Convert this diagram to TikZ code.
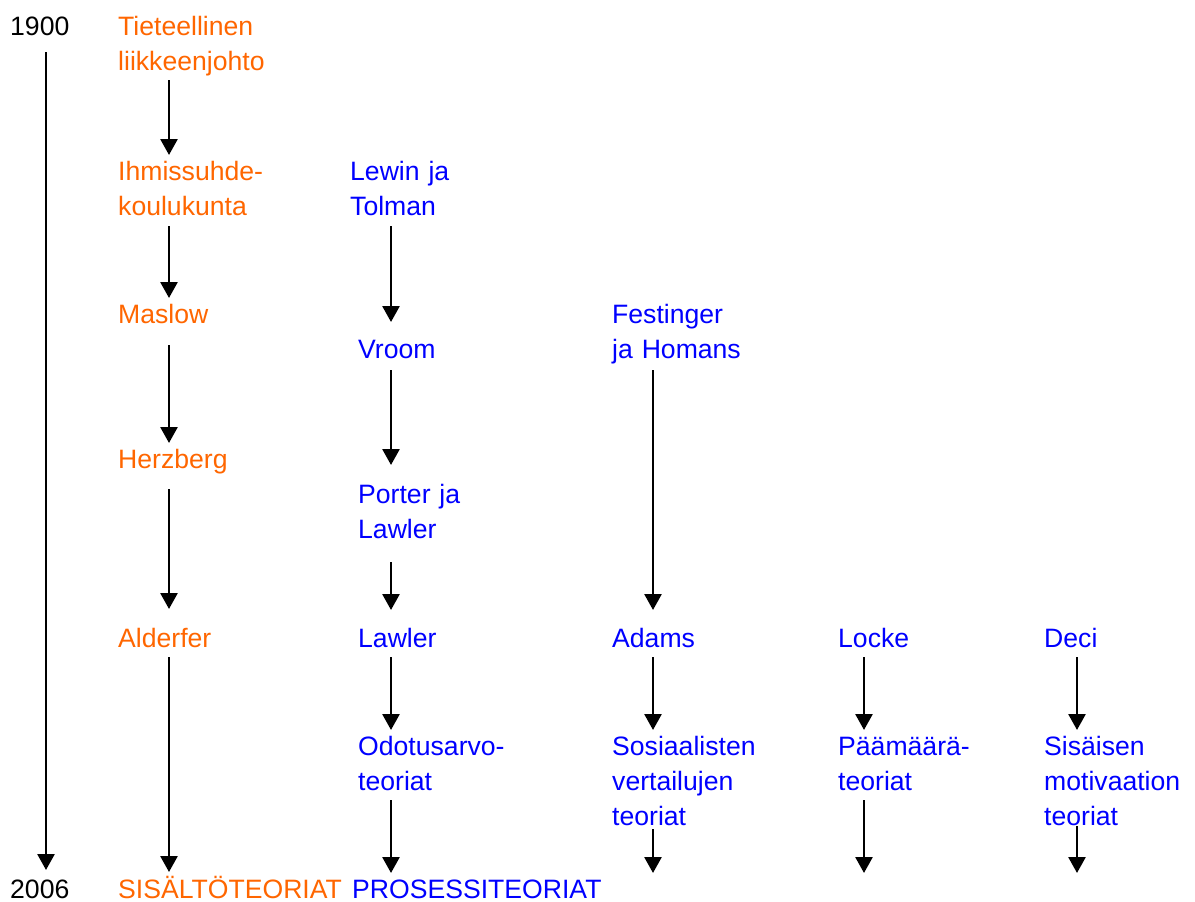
\documentclass[tikz,border=0pt]{standalone}
\usepackage{fontspec}
\setmainfont{Liberation Sans}
\usetikzlibrary{arrows.meta}
\definecolor{sorange}{RGB}{255,102,0}
\definecolor{sblue}{RGB}{0,0,255}
\begin{document}
\begin{tikzpicture}[x=1pt,y=-1pt,
  lbl/.style={inner sep=0pt,anchor=base west,align=left,text width=260pt,
    font=\fontsize{26.6}{35}\selectfont},
  cont/.style={lbl,text=sorange},
  proc/.style={lbl,text=sblue},
  yr/.style={lbl,text=black},
  arr/.style={line width=2.7pt,-{Triangle[width=17pt,length=16pt]}}]
\useasboundingbox (0,0) rectangle (1195,902);
% years
\node[yr] (y0) at (10,35) {1900};
\node[yr] (y1) at (10,898) {2006};
% content theories
\node[cont] (t1) at (118,35) {Tieteellinen\\liikkeenjohto};
\node[cont] (t2) at (118,180) {Ihmissuhde-\\koulukunta};
\node[cont] (t3) at (118,323) {Maslow};
\node[cont] (t4) at (118,468) {Herzberg};
\node[cont] (t5) at (118,647) {Alderfer};
\node[cont] (t6) at (118,898) {SISÄLTÖTEORIAT};
% process theories
\node[proc] (p1) at (350,180) {Lewin ja\\Tolman};
\node[proc] (p2) at (358,358) {Vroom};
\node[proc] (p3) at (358,503) {Porter ja\\Lawler};
\node[proc] (p4) at (358,647) {Lawler};
\node[proc] (p5) at (358,755) {Odotusarvo-\\teoriat};
\node[proc] (p6) at (352,898) {PROSESSITEORIAT};
\node[proc] (f1) at (612,323) {Festinger\\ja Homans};
\node[proc] (f2) at (612,647) {Adams};
\node[proc] (f3) at (612,755) {Sosiaalisten\\vertailujen\\teoriat};
\node[proc] (l1) at (838,647) {Locke};
\node[proc] (l2) at (838,755) {Päämäärä-\\teoriat};
\node[proc] (d1) at (1044,647) {Deci};
\node[proc] (d2) at (1044,755) {Sisäisen\\motivaation\\teoriat};
% free ends
\coordinate (e3) at (653,873);
\coordinate (e4) at (864,873);
\coordinate (e5) at (1077,873);
% timeline
\draw[arr] ([shift={(36,17)}]y0.base west) -- ([shift={(36,-28)}]y1.base west);
% column 1
\draw[arr] ([shift={(51,45)}]t1.base west) -- ([shift={(51,-25)}]t2.base west);
\draw[arr] ([shift={(51,46)}]t2.base west) -- ([shift={(51,-25)}]t3.base west);
\draw[arr] ([shift={(51,22)}]t3.base west) -- ([shift={(51,-25)}]t4.base west);
\draw[arr] ([shift={(51,21)}]t4.base west) -- ([shift={(51,-38)}]t5.base west);
\draw[arr] ([shift={(51,10)}]t5.base west) -- ([shift={(51,-26)}]t6.base west);
% column 2
\draw[arr] ([shift={(41,46)}]p1.base west) -- ([shift={(33,-36)}]p2.base west);
\draw[arr] ([shift={(33,12)}]p2.base west) -- ([shift={(33,-38)}]p3.base west);
\draw[arr] ([shift={(33,59)}]p3.base west) -- ([shift={(33,-37)}]p4.base west);
\draw[arr] ([shift={(33,10)}]p4.base west) -- ([shift={(33,-25)}]p5.base west);
\draw[arr] ([shift={(33,45)}]p5.base west) -- ([shift={(39,-25)}]p6.base west);
% column 3
\draw[arr] ([shift={(41,47)}]f1.base west) -- ([shift={(41,-37)}]f2.base west);
\draw[arr] ([shift={(41,10)}]f2.base west) -- ([shift={(41,-25)}]f3.base west);
\draw[arr] ([shift={(41,74)}]f3.base west) -- (e3);
% column 4
\draw[arr] ([shift={(26,10)}]l1.base west) -- ([shift={(26,-25)}]l2.base west);
\draw[arr] ([shift={(26,45)}]l2.base west) -- (e4);
% column 5
\draw[arr] ([shift={(33,10)}]d1.base west) -- ([shift={(33,-25)}]d2.base west);
\draw[arr] ([shift={(33,71)}]d2.base west) -- (e5);
\end{tikzpicture}
\end{document}
